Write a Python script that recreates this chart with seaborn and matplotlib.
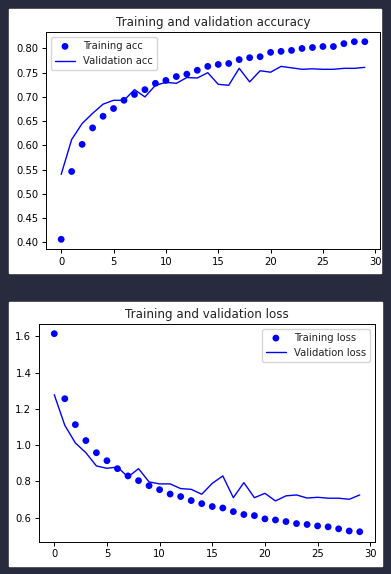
import matplotlib
matplotlib.use("Agg")
import matplotlib.pyplot as plt
import seaborn as sns
import pandas as pd
from matplotlib.patches import Rectangle

epochs = list(range(30))
train_acc = [0.406, 0.546, 0.602, 0.636, 0.660, 0.676, 0.693, 0.705, 0.715, 0.728,
             0.734, 0.742, 0.747, 0.755, 0.763, 0.767, 0.769, 0.777, 0.781, 0.783,
             0.792, 0.794, 0.796, 0.800, 0.802, 0.804, 0.804, 0.810, 0.814, 0.814]
val_acc = [0.540, 0.612, 0.645, 0.666, 0.685, 0.693, 0.693, 0.715, 0.700, 0.724,
           0.730, 0.728, 0.740, 0.739, 0.750, 0.726, 0.724, 0.759, 0.731, 0.754,
           0.751, 0.763, 0.760, 0.757, 0.758, 0.757, 0.757, 0.759, 0.759, 0.761]
train_loss = [1.615, 1.256, 1.113, 1.025, 0.958, 0.914, 0.870, 0.830, 0.804, 0.776,
              0.754, 0.730, 0.716, 0.694, 0.677, 0.661, 0.653, 0.633, 0.617, 0.611,
              0.593, 0.587, 0.578, 0.567, 0.562, 0.554, 0.549, 0.538, 0.526, 0.522]
val_loss = [1.278, 1.109, 1.012, 0.958, 0.885, 0.872, 0.879, 0.824, 0.870, 0.797,
            0.786, 0.786, 0.760, 0.756, 0.729, 0.789, 0.830, 0.710, 0.793, 0.710,
            0.734, 0.692, 0.720, 0.725, 0.708, 0.712, 0.707, 0.707, 0.701, 0.725]

df = pd.DataFrame({"epoch": epochs, "train_acc": train_acc, "val_acc": val_acc,
                   "train_loss": train_loss, "val_loss": val_loss})

sns.set_theme(style="ticks", rc={
    "axes.edgecolor": "black",
    "xtick.color": "black",
    "ytick.color": "black",
    "text.color": "#222222",
    "axes.labelcolor": "black",
    "axes.linewidth": 0.7,
    "xtick.major.width": 0.7,
    "ytick.major.width": 0.7,
    "xtick.major.size": 3,
    "ytick.major.size": 3,
    "xtick.labelsize": 7.2,
    "ytick.labelsize": 7.2,
    "legend.fontsize": 7.2,
})
plt.rcParams["font.family"] = ["DejaVu Sans"]

W, H = 391, 574
fig = plt.figure(figsize=(W / 100, H / 100), dpi=100)
fig.patch.set_facecolor("#282a3e")

# white panels behind each chart
fig.patches.append(Rectangle((9 / W, 1 - 273 / H), 372 / W, 264 / H,
                             transform=fig.transFigure, facecolor="white", zorder=-1))
fig.patches.append(Rectangle((9 / W, 1 - 566 / H), 373 / W, 264 / H,
                             transform=fig.transFigure, facecolor="white", zorder=-1))

ax1 = fig.add_axes([46 / W, 1 - 249 / H, 334 / W, 217 / H])
ax2 = fig.add_axes([39 / W, 1 - 541.7 / H, 336 / W, 218 / H])


def draw(ax, train_col, val_col, train_lbl, val_lbl, title, loc):
    sns.scatterplot(data=df, x="epoch", y=train_col, color="blue", s=24,
                    edgecolor="none", label=train_lbl, ax=ax)
    sns.lineplot(data=df, x="epoch", y=val_col, color="blue", linewidth=1.0,
                 label=val_lbl, ax=ax)
    ax.set_title(title, fontsize=8.6, pad=4)
    ax.set_xlabel("")
    ax.set_ylabel("")
    ax.set_xticks([0, 5, 10, 15, 20, 25, 30])
    ax.tick_params(pad=2.5)
    ax.legend(loc=loc, frameon=True, fancybox=True, framealpha=0.8,
              edgecolor="#cccccc", borderpad=0.4, handlelength=2.0,
              markerscale=1.0)


draw(ax1, "train_acc", "val_acc", "Training acc", "Validation acc",
     "Training and validation accuracy", "upper left")
ax1.set_xlim(-1.45, 30.45)
ax1.set_yticks([0.40, 0.45, 0.50, 0.55, 0.60, 0.65, 0.70, 0.75, 0.80])
ax1.set_yticklabels(["0.40", "0.45", "0.50", "0.55", "0.60", "0.65", "0.70", "0.75", "0.80"])
ax1.set_ylim(0.386, 0.834)

draw(ax2, "train_loss", "val_loss", "Training loss", "Validation loss",
     "Training and validation loss", "upper right")
ax2.set_xlim(-1.45, 30.45)
ax2.set_yticks([0.6, 0.8, 1.0, 1.2, 1.4, 1.6])
ax2.set_ylim(0.467, 1.67)

fig.savefig("out.png", dpi=100, facecolor=fig.get_facecolor())
